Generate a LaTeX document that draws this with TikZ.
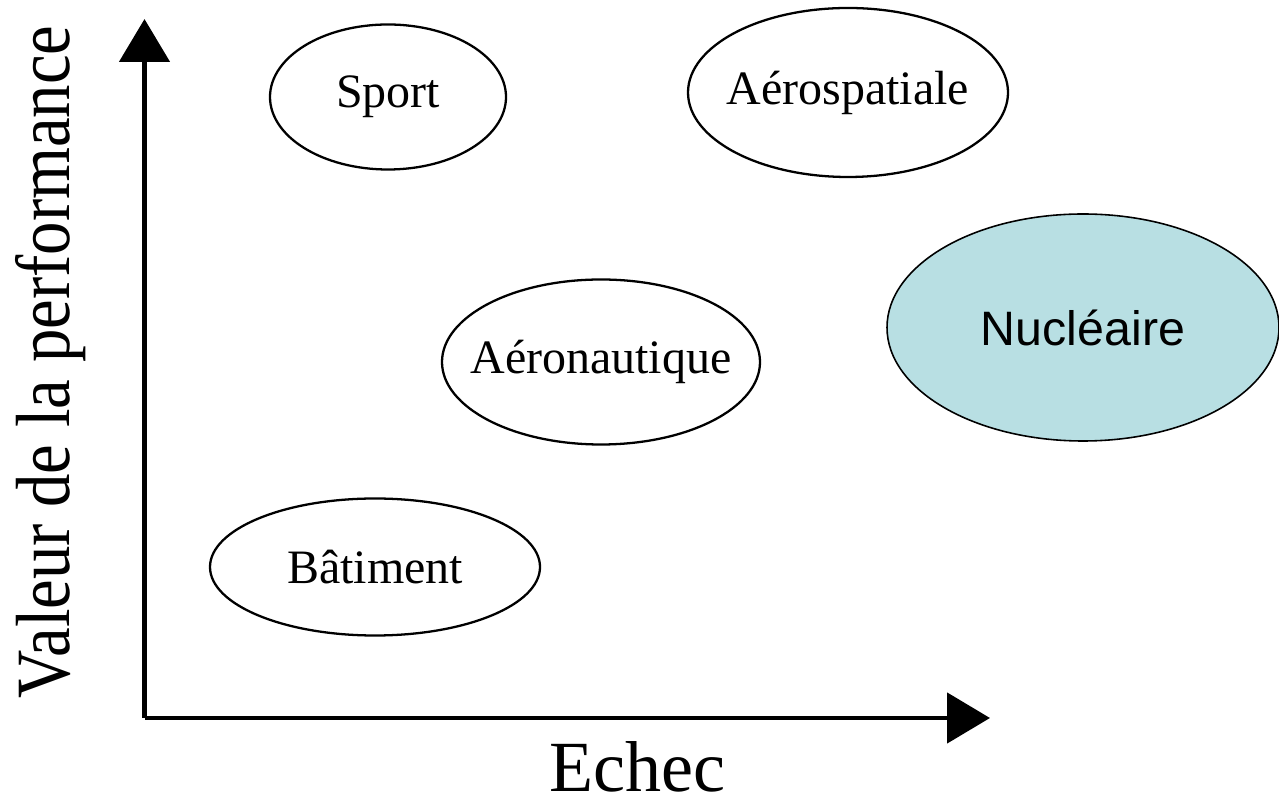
\documentclass[tikz,border=0pt]{standalone}
\usepackage{fontspec}
\setmainfont{Liberation Serif}
\newfontfamily\arialfont{Liberation Sans}
\usepackage{tikz}
\usetikzlibrary{arrows.meta, shapes.geometric}
\definecolor{nucfill}{RGB}{184,223,227}
\tikzset{sector/.style={
    ellipse, draw, line width=1.3pt, inner ysep=0pt, inner xsep=-0.5cm,
    font=\fontsize{27.3}{30}\selectfont
  },
  axisline/.style={
    line width=2.8pt,
    -{Triangle[width=1cm, length=0.86cm]}
  }
}

\begin{document}
\begin{tikzpicture}
      \useasboundingbox (0,0) rectangle (25.58,16.08);
      \coordinate (O) at (2.89,1.72);
      \coordinate (ytip) at (2.89,15.70);
      \coordinate (xtip) at (19.80,1.72);
      \draw[axisline] (O)--(ytip);
      \draw[axisline] (O)--(xtip);
      \node[anchor=base, inner sep=0pt, font=\fontsize{41}{45}\selectfont] (xlab) at (12.74,0.26) {Echec};
      \node[anchor=base, inner sep=0pt, rotate=90, yscale=1.15, font=\fontsize{38}{42}\selectfont] (ylab) at (1.38,8.84) {Valeur de la performance};
      \node[sector, minimum width=4.72cm, minimum height=2.9cm] (sport) at (7.76,14.14) {Sport};
      \node[sector, minimum width=6.4cm, minimum height=3.38cm] (aerosp) at (16.96,14.23) {Aérospatiale};
      \node[sector, minimum width=6.36cm, minimum height=3.3cm] (aeronau) at (12.02,8.84) {Aéronautique};
      \node[sector, minimum width=6.6cm, minimum height=2.74cm] (batiment) at (7.5,4.74) {Bâtiment};
      \node[sector, fill=nucfill, line width=0.9pt, minimum width=7.84cm, minimum height=4.54cm,
            font=\arialfont\fontsize{27.5}{30}\selectfont] (nucleaire) at (21.66,9.53) {Nucléaire};
    \end{tikzpicture}
\end{document}
